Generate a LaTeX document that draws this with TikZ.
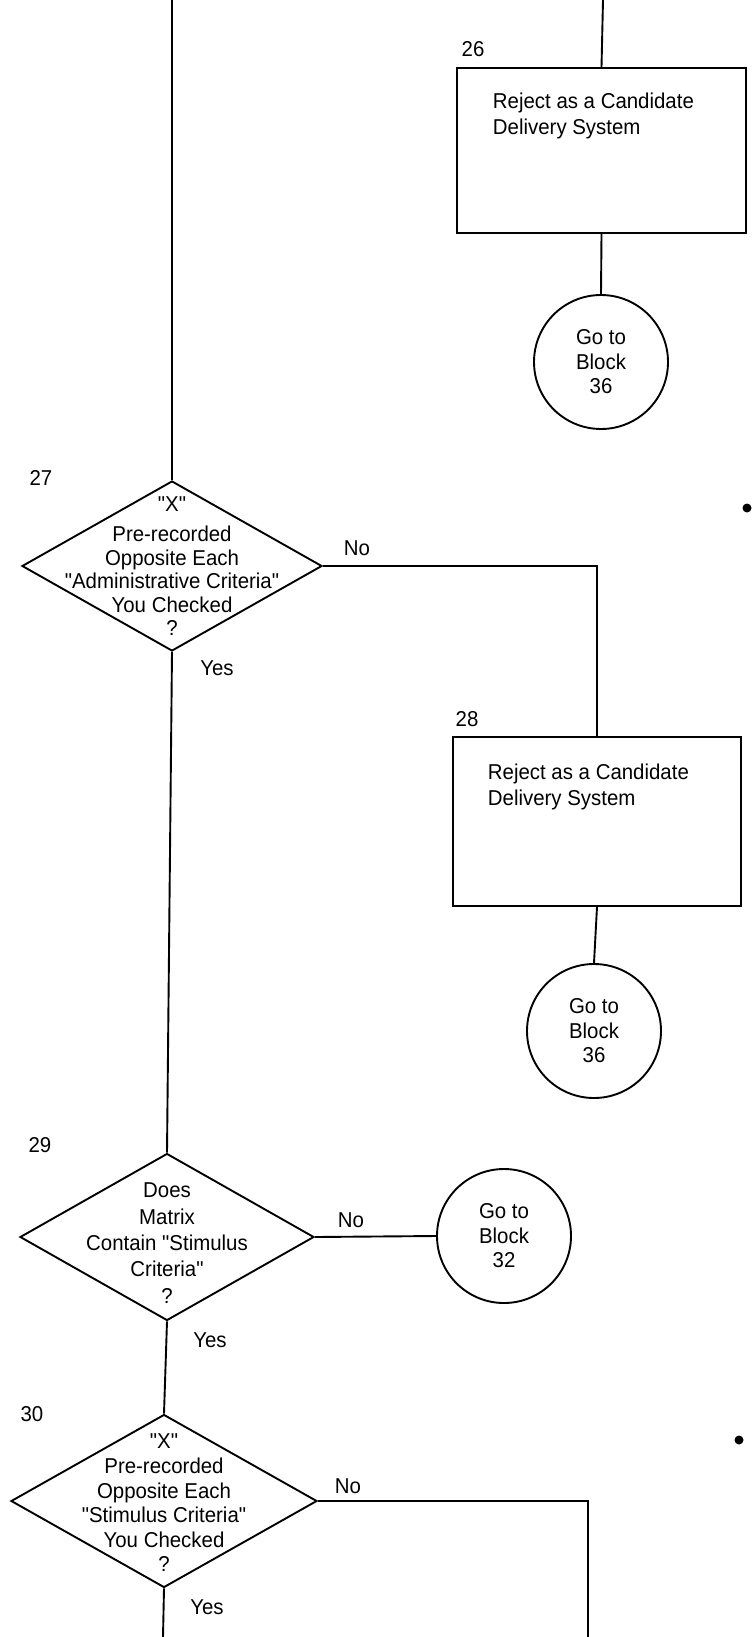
\documentclass[tikz,border=0pt]{standalone}
\usepackage{fontspec}
\setmainfont{Liberation Sans}[FakeStretch=0.95,Ligatures=TeXOff]
\usetikzlibrary{shapes.geometric}
\begin{document}
\begin{tikzpicture}[x=1pt,y=-1pt,line width=1.9pt,
  txt/.style={font=\fontsize{21.5}{24.5}\selectfont,inner sep=0pt,align=center},
  lefttxt/.style={font=\fontsize{21.5}{26}\selectfont,inner sep=0pt,align=left,anchor=north west},
  dia/.style={shape=diamond,draw,inner sep=0pt},
  boxnode/.style={shape=rectangle,draw,inner sep=0pt},
  circ/.style={shape=circle,draw,inner sep=0pt,minimum size=134pt,align=center,
    font=\fontsize{21.5}{24.5}\selectfont}]
\useasboundingbox (0,0) rectangle (752,1637);

% block 26
\node[boxnode,minimum width=289pt,minimum height=165pt] (b26) at (601.5,150.5) {};
\node[txt] (n26) at (473,49) {26};
\node[lefttxt] (t26) at (492,92) {Reject as a Candidate\\Delivery System};
\node[circ] (c26) at (601,362) {Go to\\Block\\36};

% decision 27
\node[dia,minimum width=300pt,minimum height=170pt] (d27) at (172,566) {};
\node[txt,font=\fontsize{21.5}{23.5}\selectfont] (t27) at (172,566)
  {"X"\\[7pt]Pre-recorded\\Opposite Each\\"Administrative Criteria"\\You Checked\\?};
\node[txt] (n27) at (41,478) {27};
\node[txt] (y27) at (217,668) {Yes};
\node[txt] (no27) at (357,548) {No};

% block 28
\node[boxnode,minimum width=288pt,minimum height=169pt] (b28) at (597,821.5) {};
\node[txt] (n28) at (467,719) {28};
\node[lefttxt] (t28) at (487,763) {Reject as a Candidate\\Delivery System};
\node[circ] (c28) at (594,1031) {Go to\\Block\\36};

% decision 29
\node[dia,minimum width=294pt,minimum height=167pt] (d29) at (167,1237) {};
\node[txt,font=\fontsize{21.5}{26.3}\selectfont] (t29) at (167,1243)
  {Does\\Matrix\\Contain "Stimulus\\Criteria"\\?};
\node[txt] (n29) at (40,1145) {29};
\node[txt] (y29) at (210,1340) {Yes};
\node[txt] (no29) at (351,1220) {No};
\node[circ] (c32) at (504,1236) {Go to\\Block\\32};

% decision 30
\node[dia,minimum width=306pt,minimum height=173pt] (d30) at (164,1501) {};
\node[txt,font=\fontsize{21.5}{24.6}\selectfont] (t30) at (164,1503)
  {"X"\\Pre-recorded\\Opposite Each\\"Stimulus Criteria"\\You Checked\\?};
\node[txt] (n30) at (32,1414) {30};
\node[txt] (y30) at (207,1607) {Yes};
\node[txt] (no30) at (348,1486) {No};

% free ends
\coordinate (topL) at (172,0);
\coordinate (topR) at (603,0);
\coordinate (botL) at (163,1637);
\coordinate (botR) at (588,1637);

% connectors
\draw (topL) -- (d27.north);
\draw (topR) -- (b26.north);
\draw (b26.south) -- (c26.north);
\draw (d27.east) -| (b28.north);
\draw (b28.south) -- (c28.north);
\draw (d27.south) -- (d29.north);
\draw (d29.east) -- (c32.west);
\draw (d29.south) -- (d30.north);
\draw (d30.south) -- (botL);
\draw (d30.east) -| (botR);

% margin dots
\fill (747,508) circle (4.5pt);
\fill (739,1440) circle (4.5pt);
\end{tikzpicture}
\end{document}
